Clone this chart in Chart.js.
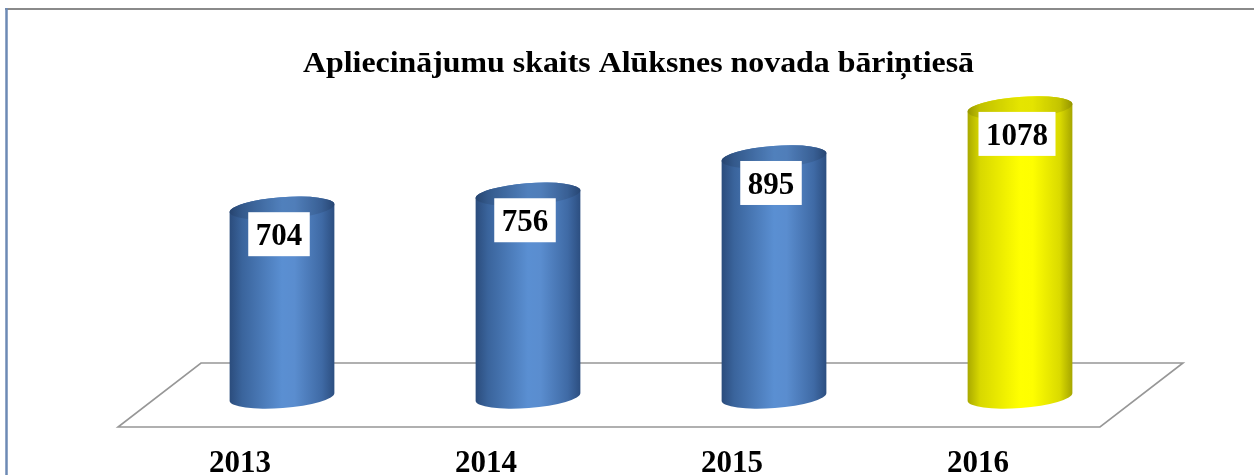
<!DOCTYPE html>
<html><head><meta charset="utf-8">
<script src="https://cdn.jsdelivr.net/npm/chart.js@4/dist/chart.umd.min.js"></script>
<style>html,body{margin:0;padding:0;background:#fff;overflow:hidden}</style>
</head><body>
<canvas id="c" width="1254" height="475"></canvas>
<script>
const categories = ['2013', '2014', '2015', '2016'];
const values = [704, 756, 895, 1078];
const titleText = 'Apliecinājumu skaits Alūksnes novada bāriņtiesā';
const yMin = 0;
const yMax = 1100;

const blueStops = [[0,'#2b4c7c'],[0.12,'#3a649c'],[0.5,'#5a8fd2'],[0.62,'#5a8dcf'],[0.88,'#3f6aa5'],[1,'#2c4e80']];
const yellowStops = [[0,'#a9a900'],[0.12,'#d8d800'],[0.5,'#ffff00'],[0.62,'#fefe00'],[0.88,'#dada00'],[1,'#a5a500']];
const barStops = [blueStops, blueStops, blueStops, yellowStops];
const serif = '"Liberation Serif", "DejaVu Serif", serif';

function grad(ctx, x0, x1, stops){
  const g = ctx.createLinearGradient(x0, 0, x1, 0);
  stops.forEach(s => g.addColorStop(s[0], s[1]));
  return g;
}

const decor = {
  id: 'decor',
  beforeDraw(chart){
    const ctx = chart.ctx, a = chart.chartArea;
    ctx.save();
    ctx.fillStyle = '#fff';
    ctx.fillRect(0, 0, chart.width, chart.height);
    // frame
    ctx.strokeStyle = '#8a8a8a'; ctx.lineWidth = 2;
    ctx.beginPath(); ctx.moveTo(5, 9); ctx.lineTo(chart.width, 9); ctx.stroke();
    ctx.strokeStyle = '#6d8ab5'; ctx.lineWidth = 2.5;
    ctx.beginPath(); ctx.moveTo(6.5, 8); ctx.lineTo(6.5, chart.height); ctx.stroke();
    // title
    ctx.font = 'bold 30px ' + serif;
    const w = ctx.measureText(titleText).width;
    const sx = 671 / w;
    ctx.translate(638.5, 72);
    ctx.scale(sx, 1);
    ctx.fillStyle = '#000'; ctx.textAlign = 'center'; ctx.textBaseline = 'alphabetic';
    ctx.fillText(titleText, 0, 0);
    ctx.restore();
    // floor
    ctx.save();
    const yb = a.bottom;
    ctx.strokeStyle = '#979797'; ctx.lineWidth = 1.6; ctx.fillStyle = '#fff';
    ctx.beginPath();
    ctx.moveTo(a.left + 42, yb - 34);
    ctx.lineTo(a.right + 40, yb - 34);
    ctx.lineTo(a.right - 43, yb + 30);
    ctx.lineTo(a.left - 41, yb + 30);
    ctx.closePath();
    ctx.fill(); ctx.stroke();
    ctx.restore();
  },
  afterDatasetsDraw(chart){
    const ctx = chart.ctx;
    const meta = chart.getDatasetMeta(0);
    meta.data.forEach((bar, i) => {
      const cx = bar.x, rx = bar.width / 2, ry = 11, rot = -0.075;
      const top = bar.y, base = bar.base;
      const stops = barStops[i];
      ctx.save();
      ctx.beginPath();
      ctx.ellipse(cx, base, rx, ry, rot, 0, Math.PI);
      ctx.lineTo(cx - rx * Math.cos(rot), top - rx * Math.sin(rot));
      ctx.ellipse(cx, top, rx, ry, rot, Math.PI, 2 * Math.PI);
      ctx.closePath();
      ctx.fillStyle = grad(ctx, cx - rx, cx + rx, stops);
      ctx.fill();
      // top face
      ctx.beginPath();
      ctx.ellipse(cx, top, rx, ry, rot, 0, 2 * Math.PI);
      ctx.fillStyle = grad(ctx, cx - rx, cx + rx, stops);
      ctx.fill();
      ctx.globalAlpha = 0.1; ctx.fillStyle = '#000'; ctx.fill();
      ctx.restore();
      // value label
      ctx.save();
      ctx.font = 'bold 31px ' + serif;
      const txt = String(values[i]);
      const tw = ctx.measureText(txt).width;
      const bw = tw + 15, bh = 44;
      const bx = cx - 3 - bw / 2, by = top + 4;
      ctx.fillStyle = '#fff';
      ctx.fillRect(bx, by, bw, bh);
      ctx.fillStyle = '#000'; ctx.textAlign = 'center'; ctx.textBaseline = 'alphabetic';
      ctx.fillText(txt, bx + bw / 2, by + 33);
      ctx.restore();
    });
  }
};

new Chart(document.getElementById('c'), {
  type: 'bar',
  data: {
    labels: categories,
    datasets: [{
      data: values,
      backgroundColor: 'rgba(0,0,0,0)',
      borderWidth: 0,
      categoryPercentage: 1,
      barPercentage: 0.427
    }]
  },
  options: {
    responsive: false,
    animation: false,
    layout: { padding: { left: 159, right: 111, top: 102, bottom: 2 } },
    plugins: { legend: { display: false }, title: { display: false }, tooltip: { enabled: false } },
    scales: {
      x: {
        grid: { display: false, drawTicks: false },
        border: { display: false },
        afterFit: (scale) => { scale.height = 76; },
        ticks: { color: '#000', padding: 55, labelOffset: -42, maxRotation: 0, font: { family: serif, weight: 'bold', size: 31, lineHeight: 0.8 } }
      },
      y: { display: false, min: yMin, max: yMax }
    }
  },
  plugins: [decor]
});
</script>
</body></html>
